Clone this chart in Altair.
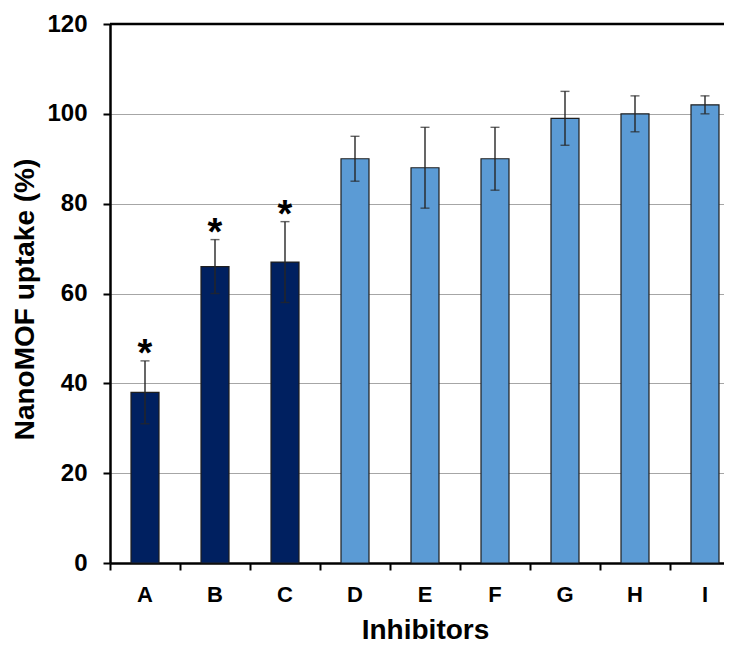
import altair as alt
import pandas as pd

categories = ["A", "B", "C", "D", "E", "F", "G", "H", "I"]
uptake = [38, 66, 67, 90, 88, 90, 99, 100, 102]
errors = [7, 6, 9, 5, 9, 7, 6, 4, 2]
groups = ["sig", "sig", "sig", "ns", "ns", "ns", "ns", "ns", "ns"]
stars = ["*", "*", "*", "", "", "", "", "", ""]
y_ticks = [0, 20, 40, 60, 80, 100, 120]

df = pd.DataFrame({
    "cat": categories,
    "val": uptake,
    "err": errors,
    "grp": groups,
    "star": stars,
})
df["lo"] = df["val"] - df["err"]
df["hi"] = df["val"] + df["err"]

FONT = "Liberation Sans"

# The original plot area continues past the right edge of the picture:
# nine bands of 70 px, of which only the visible part is drawn.
x_scale = alt.Scale(paddingInner=0, paddingOuter=0, range=[0, 630])

x_enc = alt.X(
    "cat:N",
    sort=categories,
    scale=x_scale,
    axis=alt.Axis(
        title="Inhibitors",
        labelAngle=0,
        labelFont=FONT,
        labelFontSize=22,
        labelFontWeight="bold",
        labelColor="black",
        labelBaseline="alphabetic",
        labelPadding=31,
        ticks=True,
        tickSize=7,
        tickWidth=2,
        tickColor="black",
        bandPosition=0,
        domainColor="black",
        domainWidth=2.5,
        grid=False,
        titleFont=FONT,
        titleFontSize=28,
        titleFontWeight="bold",
        titleColor="black",
        titleBaseline="alphabetic",
        titleX=315,
        titleY=75,
    ),
)

y_scale = alt.Scale(domain=[0, 120], nice=False, zero=True)

y_axis = alt.Axis(
    title="NanoMOF uptake (%)",
    values=y_ticks,
    labelFont=FONT,
    labelFontSize=24,
    labelFontWeight="bold",
    labelColor="black",
    labelPadding=16,
    tickSize=7,
    tickWidth=2,
    tickColor="black",
    domainColor="black",
    domainWidth=2.5,
    grid=True,
    gridColor="#A6A6A6",
    gridWidth=1,
    titleFont=FONT,
    titleFontSize=28,
    titleFontWeight="bold",
    titleColor="black",
    titleBaseline="alphabetic",
    titleX=-77,
    titleY=275,
    titleAngle=270,
)

base = alt.Chart(df)

bars = base.mark_bar(size=28, stroke="#1F1F1F", strokeWidth=1.2).encode(
    x=x_enc,
    y=alt.Y("val:Q", scale=y_scale, axis=y_axis),
    color=alt.Color(
        "grp:N",
        scale=alt.Scale(domain=["sig", "ns"], range=["#002060", "#5B9BD5"]),
        legend=None,
    ),
)

err_rule = base.mark_rule(color="#262626", strokeWidth=1.4).encode(
    x=alt.X("cat:N", sort=categories),
    y="lo:Q",
    y2="hi:Q",
)

cap_hi = base.mark_tick(color="#262626", size=9, thickness=1.4, orient="horizontal").encode(
    x=alt.X("cat:N", sort=categories),
    y="hi:Q",
)
cap_lo = base.mark_tick(color="#262626", size=9, thickness=1.4, orient="horizontal").encode(
    x=alt.X("cat:N", sort=categories),
    y="lo:Q",
)

star_text = base.transform_filter(alt.datum.star != "").mark_text(
    font=FONT, fontSize=38, fontWeight="bold", color="black",
    baseline="alphabetic", align="center", dy=5,
).encode(
    x=alt.X("cat:N", sort=categories),
    y="hi:Q",
    text="star:N",
)

top_line = alt.Chart(pd.DataFrame({"top": [120]})).mark_rule(
    color="black", strokeWidth=2.5
).encode(y=alt.Y("top:Q", scale=y_scale))

chart = alt.layer(bars, err_rule, cap_hi, cap_lo, star_text, top_line).properties(
    width=614,
    height=539,
    autosize=alt.AutoSizeParams(type="none"),
    padding={"left": 102, "top": 16, "right": 0, "bottom": 82},
).configure_view(stroke=None).configure(background="white")

chart.save("out.html", embed_options={"renderer": "svg", "actions": False})
